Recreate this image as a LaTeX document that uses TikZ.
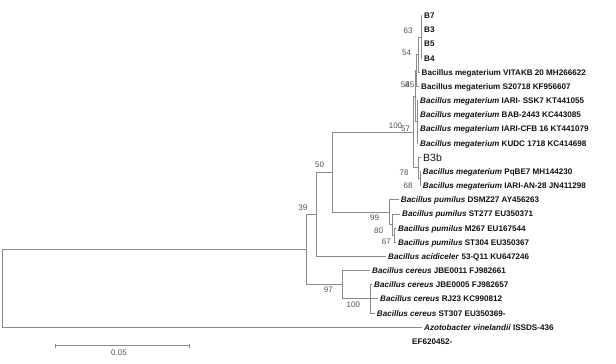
\documentclass[tikz,border=0pt]{standalone}
\usepackage{fontspec}
\setmainfont{Liberation Sans}
\usepackage{tikz}
\usetikzlibrary{positioning}
\definecolor{twig}{HTML}{8A8A8A}
\definecolor{boot}{HTML}{505050}
\definecolor{taxon}{HTML}{111111}
\tikzset{branch/.style={draw=twig,line width=.9pt}, leaf/.style={inner sep=0pt,anchor=west,text=taxon,font=\fontsize{8.1}{9}\selectfont\bfseries,text height=5.9pt,text depth=0pt}, isolate/.style={inner sep=0pt,anchor=west,text=taxon,font=\fontsize{10.5}{12}\selectfont,text height=7.5pt,text depth=0pt}, bootval/.style={inner sep=0pt,text=boot,font=\fontsize{8}{9}\selectfont}}

\begin{document}
\begin{tikzpicture}[x=1pt,y=-1pt]
\useasboundingbox (0,0) rectangle (616,364);
\coordinate (root) at (2.7,288.35);
\coordinate (n39) at (306.7,249.5);
\coordinate (n50) at (316.7,214.25);
\coordinate (nmp) at (332,172.1);
\coordinate (n100) at (413,132.05);
\coordinate (n45) at (415,96.2);
\coordinate (n58) at (416.7,70.55);
\coordinate (n54) at (418.7,54.6);
\coordinate (n63) at (421,36.95);
\coordinate (n57) at (417,121.9);
\coordinate (nb3) at (418.5,167.9);
\coordinate (n78) at (420,178.55);
\coordinate (n99) at (389,212.2);
\coordinate (n80) at (392.5,224.6);
\coordinate (n67) at (394.5,235.2);
\coordinate (n97) at (342,284.75);
\coordinate (nce) at (370.7,298.9);
\coordinate (tB7) at (422,15.7);
\coordinate (tB3) at (422,29.9);
\coordinate (tB5) at (422,44.0);
\coordinate (tB4) at (422,58.2);
\coordinate (tvit) at (419.5,72.3);
\coordinate (ts20) at (419,86.5);
\coordinate (tssk) at (418,100.7);
\coordinate (tbab) at (418,114.8);
\coordinate (tcfb) at (418,129.0);
\coordinate (tkud) at (418,143.1);
\coordinate (tB3b) at (421,157.3);
\coordinate (tpq) at (420.7,171.5);
\coordinate (tan) at (420.7,185.6);
\coordinate (tdsm) at (398.7,199.8);
\coordinate (tst277) at (400,214.0);
\coordinate (tm267) at (396,228.1);
\coordinate (tst304) at (396,242.3);
\coordinate (tacid) at (386,256.4);
\coordinate (tjbe11) at (370,270.6);
\coordinate (tjbe05) at (372,284.7);
\coordinate (trj) at (378,298.9);
\coordinate (tst307) at (374.7,313.1);
\coordinate (tazo) at (422,327.2);
\node[leaf,right=2pt of tB7] (B7) {B7};
\node[leaf,right=2pt of tB3] (B3) {B3};
\node[leaf,right=2pt of tB5] (B5) {B5};
\node[leaf,right=2pt of tB4] (B4) {B4};
\node[leaf,right=2pt of tvit] (vit) {Bacillus megaterium VITAKB 20 MH266622};
\node[leaf,right=2pt of ts20] (s20) {Bacillus megaterium S20718 KF956607};
\node[leaf,right=2pt of tssk] (ssk) {\textit{Bacillus megaterium} IARI- SSK7 KT441055};
\node[leaf,right=2pt of tbab] (bab) {\textit{Bacillus megaterium} BAB-2443 KC443085};
\node[leaf,right=2pt of tcfb] (cfb) {\textit{Bacillus megaterium} IARI-CFB 16 KT441079};
\node[leaf,right=2pt of tkud] (kud) {\textit{Bacillus megaterium} KUDC 1718 KC414698};
\node[isolate,right=2pt of tB3b] (B3b) {B3b};
\node[leaf,right=2pt of tpq] (pq) {\textit{Bacillus megaterium} PqBE7 MH144230};
\node[leaf,right=2pt of tan] (an) {\textit{Bacillus megaterium} IARI-AN-28 JN411298};
\node[leaf,right=2pt of tdsm] (dsm) {\textit{Bacillus pumilus} DSMZ27 AY456263};
\node[leaf,right=2pt of tst277] (st277) {\textit{Bacillus pumilus} ST277 EU350371};
\node[leaf,right=2pt of tm267] (m267) {\textit{Bacillus pumilus} M267 EU167544};
\node[leaf,right=2pt of tst304] (st304) {\textit{Bacillus pumilus} ST304 EU350367};
\node[leaf,right=2pt of tacid] (acid) {\textit{Bacillus acidiceler} 53-Q11 KU647246};
\node[leaf,right=2pt of tjbe11] (jbe11) {\textit{Bacillus cereus} JBE0011 FJ982661};
\node[leaf,right=2pt of tjbe05] (jbe05) {\textit{Bacillus cereus} JBE0005 FJ982657};
\node[leaf,right=2pt of trj] (rj) {\textit{Bacillus cereus} RJ23 KC990812};
\node[leaf,right=2pt of tst307] (st307) {\textit{Bacillus cereus} ST307 EU350369-};
\node[leaf,right=2pt of tazo] (azo) {\textit{Azotobacter vinelandii} ISSDS-436};
\node[leaf] (azoacc) at (412,341.2) {EF620452-};
\draw[branch] (root) |- (n39) (root) |- (tazo);
\draw[branch] (n39) |- (n50) (n39) |- (n97);
\draw[branch] (n50) |- (nmp) (n50) |- (tacid);
\draw[branch] (nmp) |- (n100) (nmp) |- (n99);
\draw[branch] (n100) |- (n45) (n100) |- (nb3);
\draw[branch] (n45) |- (n58) (n45) |- (n57);
\draw[branch] (n58) |- (n54) (n58) |- (ts20);
\draw[branch] (n54) |- (n63) (n54) |- (tvit);
\draw[branch] (n63) |- (tB7) (n63) |- (tB3) (n63) |- (tB5) (n63) |- (tB4);
\draw[branch] (n57) |- (tssk) (n57) |- (tbab) (n57) |- (tcfb) (n57) |- (tkud);
\draw[branch] (nb3) |- (tB3b) (nb3) |- (n78);
\draw[branch] (n78) |- (tpq) (n78) |- (tan);
\draw[branch] (n99) |- (tdsm) (n99) |- (n80);
\draw[branch] (n80) |- (tst277) (n80) |- (n67);
\draw[branch] (n67) |- (tm267) (n67) |- (tst304);
\draw[branch] (n97) |- (tjbe11) (n97) |- (nce);
\draw[branch] (nce) |- (tjbe05) (nce) |- (trj) (nce) |- (tst307);
\node[bootval] (b63) at (408,31) {63};
\node[bootval] (b54) at (406.5,52.5) {54};
\node[bootval] (b58) at (405.2,85) {58};
\node[bootval] (b45) at (409.9,85) {45};
\node[bootval] (b100) at (395.5,126) {100};
\node[bootval] (b57) at (405.5,128.5) {57};
\node[bootval] (b78) at (404,172.5) {78};
\node[bootval] (b68) at (408,186) {68};
\node[bootval] (b99) at (374.5,217.3) {99};
\node[bootval] (b80) at (378.5,230.7) {80};
\node[bootval] (b67) at (386.3,241.7) {67};
\node[bootval] (b50) at (319.5,164.5) {50};
\node[bootval] (b39) at (302.8,207.7) {39};
\node[bootval] (b97) at (328.3,290) {97};
\node[bootval] (b100c) at (353.3,304.7) {100};
\coordinate (barl) at (55,345.7);
\coordinate (barr) at (189,345.7);
\draw[branch] (barl) -- (barr) ([yshift=2.2pt]barl) -- ([yshift=-2.2pt]barl) ([yshift=2.2pt]barr) -- ([yshift=-2.2pt]barr);
\node[bootval] (bar) at (119,352.7) {0.05};
\end{tikzpicture}
\end{document}
